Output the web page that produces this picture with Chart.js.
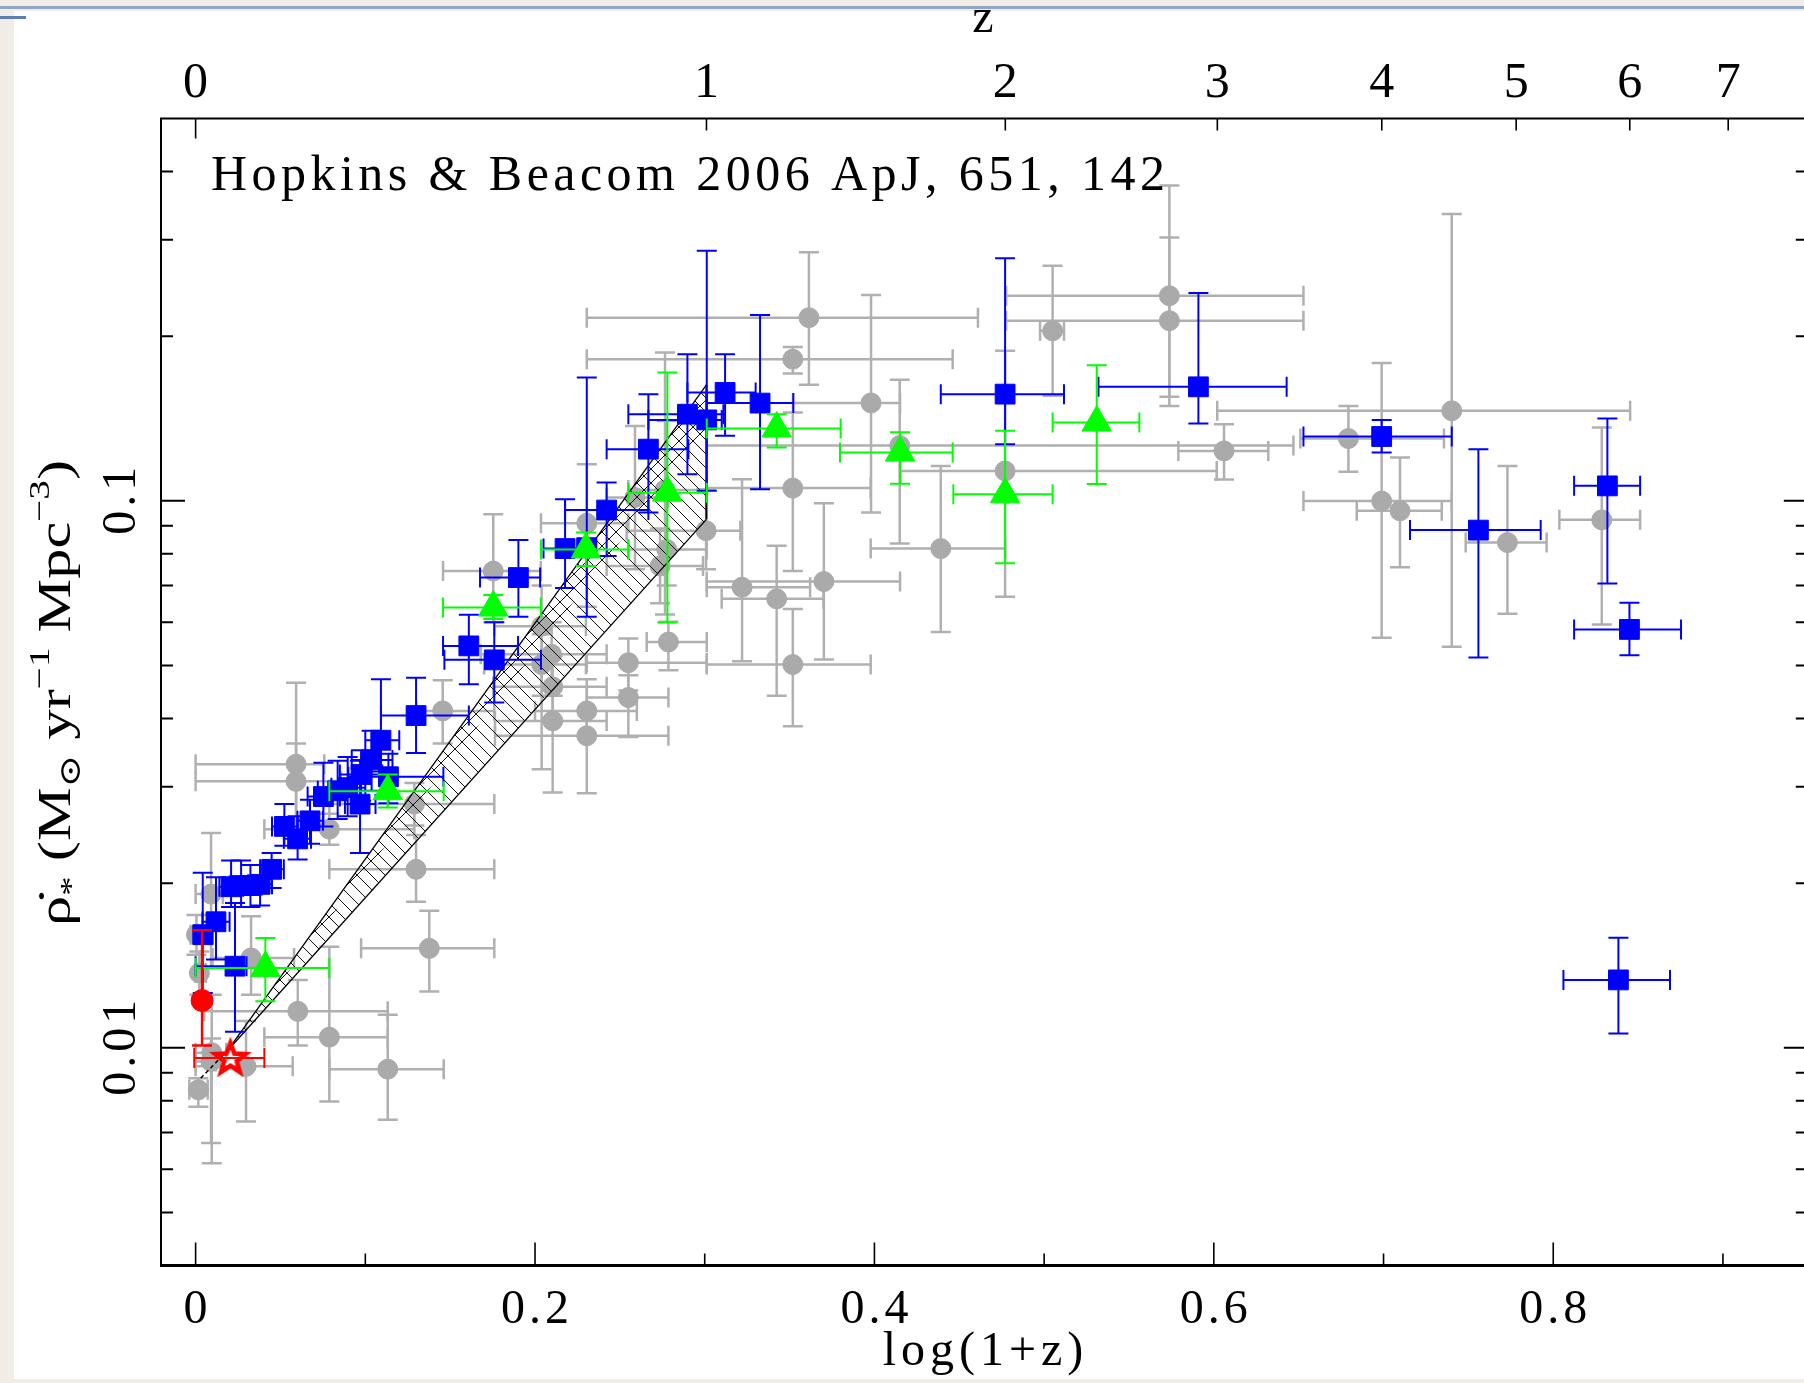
<!DOCTYPE html>
<html>
<head>
<meta charset="utf-8">
<script src="https://cdn.jsdelivr.net/npm/chart.js@4.4.0/dist/chart.umd.min.js"></script>
<style>
html, body { margin: 0; padding: 0; overflow: hidden; background: #f1ede6; }
#wrap { position: relative; width: 1804px; height: 1383px; overflow: hidden; }
#chart { position: absolute; left: 0; top: 0; }
</style>
</head>
<body>
<div id="wrap"><canvas id="chart" width="1812" height="1383"></canvas></div>
<script>
// rows: [log(1+z), rho, xlo, xhi, ylo, yhi]
const grayPts = [
    [0.0016, 0.00838, -0.0037, 0.0071, 0.0078, 0.0088],
    [0.0091, 0.00944, 0.0, 0.012, 0.0067, 0.0104],
    [0.0095, 0.0098, 0.0, 0.018, 0.00615, 0.0125],
    [0.0297, 0.00925, 0.0, 0.0572, 0.00733, 0.0112],
    [0.0602, 0.01166, 0.0051, 0.1132, 0.0101, 0.0133],
    [0.0788, 0.01046, 0.0405, 0.1132, 0.00798, 0.0153],
    [0.1132, 0.00914, 0.0788, 0.1462, 0.00739, 0.0115],
    [0.1377, 0.0152, 0.0975, 0.1760, 0.01268, 0.0178],
    [0.1299, 0.0212, 0.0788, 0.1760, 0.0185, 0.0245],
    [0.0091, 0.0191, 0.0, 0.016, 0.0140, 0.0247],
    [0.0005, 0.0161, -0.003, 0.004, 0.0148, 0.0175],
    [0.0327, 0.0146, 0.010, 0.058, 0.0125, 0.0174],
    [0.0022, 0.0137, 0.0, 0.006, 0.0125, 0.0150],
    [0.0592, 0.0330, 0.0, 0.0758, 0.0250, 0.0465],
    [0.0592, 0.0307, 0.0, 0.0855, 0.0262, 0.0360],
    [0.0788, 0.0251, 0.0405, 0.1289, 0.0235, 0.0268],
    [0.1289, 0.0279, 0.0788, 0.1760, 0.0255, 0.0305],
    [0.1456, 0.0413, 0.1300, 0.1760, 0.0360, 0.0470],
    [0.1754, 0.0744, 0.1458, 0.2034, 0.0600, 0.0945],
    [0.2039, 0.0590, 0.1760, 0.2300, 0.0323, 0.0700],
    [0.2098, 0.0524, 0.1680, 0.2422, 0.0450, 0.0600],
    [0.2039, 0.0502, 0.1700, 0.2300, 0.0440, 0.0570],
    [0.2104, 0.0457, 0.1754, 0.2422, 0.0400, 0.0520],
    [0.2104, 0.0396, 0.1764, 0.2422, 0.0293, 0.0440],
    [0.2305, 0.0413, 0.2000, 0.2600, 0.0370, 0.0472],
    [0.2305, 0.0372, 0.1764, 0.2786, 0.0292, 0.0415],
    [0.2550, 0.0506, 0.2305, 0.3012, 0.0450, 0.0560],
    [0.2550, 0.0437, 0.2305, 0.2786, 0.0370, 0.0480],
    [0.2786, 0.0552, 0.2658, 0.3012, 0.0490, 0.0601],
    [0.2305, 0.0910, 0.2035, 0.2550, 0.0640, 0.1167],
    [0.2589, 0.1014, 0.2422, 0.2786, 0.0750, 0.1370],
    [0.2776, 0.0815, 0.2550, 0.3012, 0.0700, 0.1400],
    [0.2737, 0.0760, 0.2422, 0.2990, 0.0650, 0.0890],
    [0.2766, 0.1047, 0.2550, 0.3012, 0.0620, 0.1868],
    [0.3008, 0.0882, 0.2540, 0.3210, 0.0750, 0.1050],
    [0.3220, 0.0695, 0.3012, 0.3621, 0.0509, 0.1095],
    [0.3424, 0.0662, 0.3100, 0.3700, 0.0440, 0.0828],
    [0.3702, 0.0712, 0.3012, 0.4151, 0.0513, 0.0990],
    [0.3519, 0.0502, 0.3012, 0.3978, 0.0387, 0.0634],
    [0.3519, 0.1055, 0.3012, 0.3978, 0.0744, 0.1450],
    [0.3519, 0.1815, 0.2305, 0.4461, 0.1710, 0.1910],
    [0.3614, 0.2162, 0.2305, 0.4610, 0.1630, 0.2846],
    [0.3980, 0.1510, 0.3520, 0.4151, 0.0952, 0.2378],
    [0.4149, 0.1262, 0.3012, 0.6469, 0.0836, 0.1664],
    [0.4391, 0.0818, 0.3978, 0.4770, 0.0576, 0.1158],
    [0.4770, 0.1134, 0.4151, 0.6017, 0.0668, 0.1880],
    [0.5050, 0.2046, 0.4976, 0.5117, 0.1556, 0.2691],
    [0.5738, 0.2371, 0.4776, 0.6528, 0.1550, 0.3770],
    [0.5738, 0.2135, 0.4776, 0.6528, 0.1490, 0.3030],
    [0.6060, 0.1234, 0.5791, 0.6321, 0.1094, 0.1380],
    [0.6793, 0.1300, 0.6510, 0.7356, 0.1130, 0.1490],
    [0.6989, 0.0999, 0.6528, 0.7402, 0.0562, 0.1786],
    [0.7097, 0.0959, 0.6842, 0.7343, 0.0756, 0.1200],
    [0.7402, 0.1461, 0.6020, 0.8453, 0.0541, 0.3344],
    [0.7730, 0.0839, 0.7484, 0.7961, 0.0622, 0.1158],
    [0.8286, 0.0923, 0.8036, 0.8512, 0.0594, 0.1362]
];

const bluePts = [
    [0.0042, 0.0161, 0.0, 0.010, 0.0126, 0.0209],
    [0.0120, 0.0170, 0.004, 0.020, 0.0145, 0.0205],
    [0.0232, 0.0141, 0.0, 0.030, 0.0107, 0.0184],
    [0.0209, 0.0197, 0.014, 0.028, 0.0181, 0.0220],
    [0.0268, 0.0198, 0.020, 0.034, 0.0181, 0.0220],
    [0.0323, 0.0198, 0.026, 0.039, 0.0181, 0.0216],
    [0.0380, 0.0199, 0.031, 0.045, 0.0182, 0.0216],
    [0.0448, 0.0212, 0.038, 0.052, 0.0196, 0.0227],
    [0.0523, 0.0254, 0.045, 0.060, 0.0234, 0.0279],
    [0.0601, 0.0241, 0.052, 0.068, 0.0221, 0.0265],
    [0.0674, 0.0260, 0.060, 0.075, 0.0236, 0.0284],
    [0.0753, 0.0288, 0.066, 0.085, 0.0254, 0.0332],
    [0.0837, 0.0295, 0.072, 0.095, 0.0262, 0.0335],
    [0.0896, 0.0299, 0.080, 0.100, 0.0265, 0.0340],
    [0.0969, 0.0279, 0.088, 0.106, 0.0227, 0.0335],
    [0.0975, 0.0316, 0.085, 0.110, 0.0283, 0.0350],
    [0.1037, 0.0336, 0.092, 0.116, 0.0295, 0.0380],
    [0.1092, 0.0365, 0.100, 0.120, 0.0320, 0.0472],
    [0.1136, 0.0313, 0.090, 0.146, 0.0280, 0.0345],
    [0.1299, 0.0405, 0.1092, 0.161, 0.0346, 0.0475],
    [0.1610, 0.0543, 0.1458, 0.190, 0.0462, 0.0619],
    [0.1760, 0.0512, 0.1466, 0.2035, 0.0428, 0.0600],
    [0.1902, 0.0724, 0.1676, 0.2030, 0.0614, 0.0848],
    [0.2177, 0.0818, 0.2050, 0.2320, 0.0693, 0.1007],
    [0.2305, 0.0821, 0.2250, 0.2360, 0.0614, 0.1680],
    [0.2422, 0.0962, 0.2177, 0.2668, 0.0793, 0.1080],
    [0.2668, 0.1243, 0.2422, 0.2904, 0.0952, 0.1567],
    [0.2898, 0.1440, 0.2550, 0.3110, 0.1118, 0.1854],
    [0.3012, 0.1406, 0.2668, 0.3100, 0.1043, 0.2866],
    [0.3120, 0.1578, 0.2898, 0.3300, 0.1315, 0.1854],
    [0.3326, 0.1509, 0.3012, 0.3522, 0.1050, 0.2186],
    [0.4770, 0.1567, 0.4391, 0.5117, 0.1269, 0.2776],
    [0.5909, 0.1616, 0.5320, 0.6429, 0.1385, 0.2398],
    [0.6989, 0.1311, 0.6528, 0.7402, 0.1225, 0.1406],
    [0.7559, 0.0884, 0.7156, 0.7926, 0.0517, 0.1243],
    [0.8319, 0.1065, 0.8123, 0.8512, 0.0706, 0.1414],
    [0.8449, 0.0582, 0.8123, 0.8753, 0.0522, 0.0651],
    [0.8384, 0.01331, 0.8060, 0.8688, 0.01062, 0.0159]
];

const greenPts = [
    [0.0411, 0.0140, 0.0, 0.0788, 0.01216, 0.01588],
    [0.1132, 0.02945, 0.0788, 0.1462, 0.0275, 0.0316],
    [0.1754, 0.0638, 0.1458, 0.2034, 0.0608, 0.0673],
    [0.2300, 0.0815, 0.2035, 0.2550, 0.0760, 0.0875],
    [0.2780, 0.1035, 0.2550, 0.3012, 0.0599, 0.1717],
    [0.3424, 0.1356, 0.3012, 0.3801, 0.1252, 0.1440],
    [0.4151, 0.1225, 0.3797, 0.4461, 0.1075, 0.1334],
    [0.4770, 0.1028, 0.4465, 0.5050, 0.0769, 0.1343],
    [0.5310, 0.1390, 0.5050, 0.5561, 0.1073, 0.1770]
];

const redCircle = [[0.0038, 0.0122, 0.0038, 0.0038, 0.0101, 0.0164]];
const redStar = [[0.0205, 0.00958, -0.0008, 0.0405, 0.00958, 0.00958]];

// hatched band (power law 0<z<1), corners in [log(1+z), rho]
const bandTip = [0.019, 0.0099];
const bandUpperEnd = [0.301, 0.163];
const bandLowerEnd = [0.301, 0.0925];
const bandInnerEnd = [0.301, 0.135];
const bandDash = [[0.003, 0.0088], [0.019, 0.0099]];

const xMajorTicks = [0, 0.2, 0.4, 0.6, 0.8];
const xMinorTicks = [0.1, 0.3, 0.5, 0.7, 0.9];
const zTicks = [0, 1, 2, 3, 4, 5, 6, 7];
const yMajorTicks = [0.01, 0.1];
const yMinorTicks = [0.005, 0.006, 0.007, 0.008, 0.009, 0.02, 0.03, 0.04, 0.05, 0.06, 0.07, 0.08, 0.09, 0.2, 0.3, 0.4];

const FONT = '"Liberation Serif", "DejaVu Serif", serif';
const AREA = { left: 161, top: 118.5, right: 1807.8, bottom: 1265.5 };

function toXY(rows) {
    return rows.map(r => ({ x: r[0], y: r[1] }));
}

function hatch(dir) {
    const s = 14;
    const c = document.createElement('canvas');
    c.width = s; c.height = s;
    const g = c.getContext('2d');
    g.strokeStyle = '#111';
    g.lineWidth = 1;
    g.beginPath();
    for (const k of [-s, 0, s]) {
        if (dir === 'back') { g.moveTo(k, 0); g.lineTo(k + s, s); }
        else { g.moveTo(k + s, 0); g.lineTo(k, s); }
    }
    g.stroke();
    return document.getElementById('chart').getContext('2d').createPattern(c, 'repeat');
}

function starImage() {
    const c = document.createElement('canvas');
    c.width = 46; c.height = 46;
    const g = c.getContext('2d');
    g.strokeStyle = '#ff0000';
    g.lineWidth = 2.5;
    for (const R of [19, 13]) {
        g.beginPath();
        for (let i = 0; i < 10; i++) {
            const r = i % 2 ? R * 0.42 : R;
            const a = -Math.PI / 2 + i * Math.PI / 5;
            const px = 23 + r * Math.cos(a), py = 24 + r * Math.sin(a);
            i ? g.lineTo(px, py) : g.moveTo(px, py);
        }
        g.closePath();
        g.stroke();
    }
    return c;
}

const bgPlugin = {
    id: 'bg',
    beforeDraw(chart) {
        const ctx = chart.ctx;
        ctx.save();
        ctx.fillStyle = '#f1ede6';
        ctx.fillRect(0, 0, chart.width, chart.height);
        ctx.fillStyle = '#ffffff';
        ctx.fillRect(14, 11, chart.width - 14, 1368);
        ctx.fillStyle = '#8fa6c8';
        ctx.fillRect(0, 6, chart.width, 3);
        ctx.fillStyle = '#5e7fb5';
        ctx.fillRect(0, 16, 26, 3);
        ctx.restore();
    }
};

const errPlugin = {
    id: 'errbars',
    beforeDatasetDraw(chart, args) {
        const ds = chart.data.datasets[args.index];
        if (!ds.errRows) return;
        const { ctx, chartArea: a } = chart;
        const xs = chart.scales.x, ys = chart.scales.y;
        const cap = ds.errCap;
        ctx.save();
        ctx.beginPath();
        ctx.rect(a.left, a.top, a.right - a.left, a.bottom - a.top);
        ctx.clip();
        ctx.strokeStyle = ds.errColor;
        ctx.lineWidth = ds.errWidth;
        ds.errRows.forEach(r => {
            const px = xs.getPixelForValue(r[0]), py = ys.getPixelForValue(r[1]);
            const xa = xs.getPixelForValue(r[2]), xb = xs.getPixelForValue(r[3]);
            const ya = ys.getPixelForValue(r[4]), yb = ys.getPixelForValue(r[5]);
            ctx.beginPath();
            if (xb - xa > 2) {
                ctx.moveTo(xa, py); ctx.lineTo(xb, py);
                ctx.moveTo(xa, py - cap); ctx.lineTo(xa, py + cap);
                ctx.moveTo(xb, py - cap); ctx.lineTo(xb, py + cap);
            }
            if (ya - yb > 2) {
                ctx.moveTo(px, ya); ctx.lineTo(px, yb);
                ctx.moveTo(px - cap, ya); ctx.lineTo(px + cap, ya);
                ctx.moveTo(px - cap, yb); ctx.lineTo(px + cap, yb);
            }
            ctx.stroke();
        });
        ctx.restore();
    }
};

function spacedText(ctx, txt, x, y, spacing) {
    ctx.letterSpacing = spacing + 'px';
    const w = ctx.measureText(txt).width - spacing;
    ctx.textAlign = 'left';
    ctx.fillText(txt, x - w / 2, y);
    ctx.letterSpacing = '0px';
}

const axesPlugin = {
    id: 'axes',
    afterDraw(chart) {
        const { ctx, chartArea: a } = chart;
        const xs = chart.scales.x, ys = chart.scales.y;
        ctx.save();
        ctx.strokeStyle = '#000';
        ctx.fillStyle = '#000';

        // frame
        ctx.lineWidth = 2;
        ctx.beginPath();
        ctx.moveTo(a.left, a.bottom); ctx.lineTo(a.left, a.top); ctx.lineTo(a.right, a.top); ctx.lineTo(a.right, a.bottom);
        ctx.stroke();
        ctx.lineWidth = 3;
        ctx.beginPath();
        ctx.moveTo(a.left - 1, a.bottom); ctx.lineTo(a.right, a.bottom);
        ctx.stroke();

        // ticks
        ctx.lineWidth = 1.6;
        ctx.beginPath();
        xMajorTicks.forEach(v => { const p = xs.getPixelForValue(v); ctx.moveTo(p, a.bottom); ctx.lineTo(p, a.bottom - 23); });
        xMinorTicks.forEach(v => { const p = xs.getPixelForValue(v); ctx.moveTo(p, a.bottom); ctx.lineTo(p, a.bottom - 12); });
        zTicks.forEach(z => { const p = xs.getPixelForValue(Math.log10(1 + z)); ctx.moveTo(p, a.top); ctx.lineTo(p, a.top + (z === 0 ? 20 : 12)); });
        ctx.stroke();
        ctx.lineWidth = 2;
        ctx.beginPath();
        yMajorTicks.forEach(v => {
            const p = ys.getPixelForValue(v);
            ctx.moveTo(a.left, p); ctx.lineTo(a.left + 24, p);
            ctx.moveTo(a.right, p); ctx.lineTo(a.right - 24, p);
        });
        yMinorTicks.forEach(v => {
            const p = ys.getPixelForValue(v);
            ctx.moveTo(a.left, p); ctx.lineTo(a.left + 12, p);
            ctx.moveTo(a.right, p); ctx.lineTo(a.right - 12, p);
        });
        ctx.stroke();

        // tick labels
        ctx.textBaseline = 'alphabetic';
        ctx.font = '48px ' + FONT;
        xMajorTicks.forEach(v => spacedText(ctx, String(v), xs.getPixelForValue(v), 1323, 4));
        ctx.font = '50px ' + FONT;
        zTicks.forEach(z => spacedText(ctx, String(z), xs.getPixelForValue(Math.log10(1 + z)), 97, 4));
        ctx.font = '48px ' + FONT;
        spacedText(ctx, 'z', 983, 32, 0);
        spacedText(ctx, 'log(1+z)', 983, 1365, 5);
        yMajorTicks.forEach(v => {
            ctx.save();
            ctx.translate(135, ys.getPixelForValue(v));
            ctx.rotate(-Math.PI / 2);
            spacedText(ctx, String(v), 0, 0, 4);
            ctx.restore();
        });

        // y title with sub/superscripts
        const size = 46;
        const runs = [
            { t: 'ρ̇', k: 0 }, { t: '*', k: -1 }, { t: ' (M', k: 0 }, { t: '⊙', k: -1 },
            { t: ' yr', k: 0 }, { t: '−1', k: 1 }, { t: ' Mpc', k: 0 }, { t: '−3', k: 1 }, { t: ')', k: 0 }
        ];
        let total = 0;
        runs.forEach(r => {
            ctx.font = (r.k ? size * 0.65 : size) + 'px ' + FONT;
            r.w = ctx.measureText(r.t).width;
            total += r.w;
        });
        ctx.save();
        ctx.translate(70, 693);
        ctx.rotate(-Math.PI / 2);
        ctx.scale(466 / total, 1);
        let cx = -total / 2;
        ctx.textAlign = 'left';
        runs.forEach(r => {
            ctx.font = (r.k ? size * 0.65 : size) + 'px ' + FONT;
            const dy = r.k === 1 ? -size * 0.45 : r.k === -1 ? size * 0.22 : 0;
            ctx.fillText(r.t, cx, dy);
            cx += r.w;
        });
        ctx.restore();

        // annotation
        ctx.font = '50px ' + FONT;
        const note = 'Hopkins & Beacom 2006 ApJ, 651, 142';
        const w0 = ctx.measureText(note).width;
        ctx.letterSpacing = ((954 - w0) / (note.length - 1)) + 'px';
        ctx.textAlign = 'left';
        ctx.fillText(note, 211, 190);
        ctx.letterSpacing = '0px';
        ctx.restore();
    }
};

const patBack = hatch('back');
const patFwd = hatch('fwd');

const chart = new Chart(document.getElementById('chart'), {
    type: 'scatter',
    data: {
        datasets: [
            {
                label: 'red star', data: toXY(redStar), order: 0,
                pointStyle: starImage(), pointRadius: 19,
                errRows: redStar, errColor: '#ff0000', errWidth: 2, errCap: 10
            },
            {
                label: 'red circle', data: toXY(redCircle), order: 0,
                pointStyle: 'circle', pointRadius: 11, backgroundColor: '#ff0000', borderColor: '#ff0000', borderWidth: 1,
                errRows: redCircle, errColor: '#ff0000', errWidth: 2.5, errCap: 10
            },
            {
                label: 'green', data: toXY(greenPts), order: 1,
                pointStyle: 'triangle', pointRadius: 17, backgroundColor: '#00ff00', borderColor: '#00ff00', borderWidth: 1,
                errRows: greenPts, errColor: '#00ff00', errWidth: 2, errCap: 10
            },
            {
                label: 'blue', data: toXY(bluePts), order: 2,
                pointStyle: 'rect', pointRadius: 14, backgroundColor: '#0000ff', borderColor: '#0000ff', borderWidth: 1,
                errRows: bluePts, errColor: '#0000ff', errWidth: 2, errCap: 10
            },
            {
                type: 'line', label: 'band upper', order: 3,
                data: [{ x: bandTip[0], y: bandTip[1] }, { x: bandUpperEnd[0], y: bandUpperEnd[1] }],
                borderColor: '#000', borderWidth: 1.3, pointRadius: 0, fill: '+1', backgroundColor: patBack
            },
            {
                type: 'line', label: 'band lower', order: 3,
                data: [{ x: bandTip[0], y: bandTip[1] }, { x: bandLowerEnd[0], y: bandLowerEnd[1] }],
                borderColor: '#000', borderWidth: 1.3, pointRadius: 0, fill: false
            },
            {
                type: 'line', label: 'band inner upper', order: 3,
                data: [{ x: bandTip[0], y: bandTip[1] }, { x: bandUpperEnd[0], y: bandUpperEnd[1] }],
                borderWidth: 0, pointRadius: 0, fill: '+1', backgroundColor: patFwd
            },
            {
                type: 'line', label: 'band inner lower', order: 3,
                data: [{ x: bandTip[0], y: bandTip[1] }, { x: bandInnerEnd[0], y: bandInnerEnd[1] }],
                borderWidth: 0, pointRadius: 0, fill: false
            },
            {
                type: 'line', label: 'band edge', order: 3,
                data: [{ x: bandLowerEnd[0], y: bandLowerEnd[1] }, { x: bandUpperEnd[0], y: bandUpperEnd[1] }],
                borderColor: '#000', borderWidth: 2, pointRadius: 0, fill: false
            },
            {
                type: 'line', label: 'band extension', order: 3,
                data: bandDash.map(p => ({ x: p[0], y: p[1] })),
                borderColor: '#000', borderWidth: 1.5, borderDash: [4, 3], pointRadius: 0, fill: false
            },
            {
                label: 'gray', data: toXY(grayPts), order: 5,
                pointStyle: 'circle', pointRadius: 10, backgroundColor: '#aaaaaa', borderColor: '#aaaaaa', borderWidth: 1,
                errRows: grayPts, errColor: '#b0b0b0', errWidth: 2.5, errCap: 10
            }
        ]
    },
    options: {
        responsive: false,
        animation: false,
        devicePixelRatio: 1,
        layout: { autoPadding: false, padding: { left: AREA.left, top: AREA.top, right: 1812 - AREA.right, bottom: 1383 - AREA.bottom } },
        plugins: { legend: { display: false }, tooltip: { enabled: false } },
        scales: {
            x: { type: 'linear', min: -0.0204, max: 0.95, bounds: 'data', display: false },
            y: { type: 'logarithmic', min: 0.004, max: 0.5, bounds: 'data', display: false }
        }
    },
    plugins: [bgPlugin, errPlugin, axesPlugin]
});

// nudge the padding so the plot box lands exactly where the original frame is
const pad = chart.options.layout.padding;
const ca = chart.chartArea;
pad.left += AREA.left - ca.left;
pad.top += AREA.top - ca.top;
pad.right += ca.right - AREA.right;
pad.bottom += ca.bottom - AREA.bottom;
chart.update();
</script>
</body>
</html>
